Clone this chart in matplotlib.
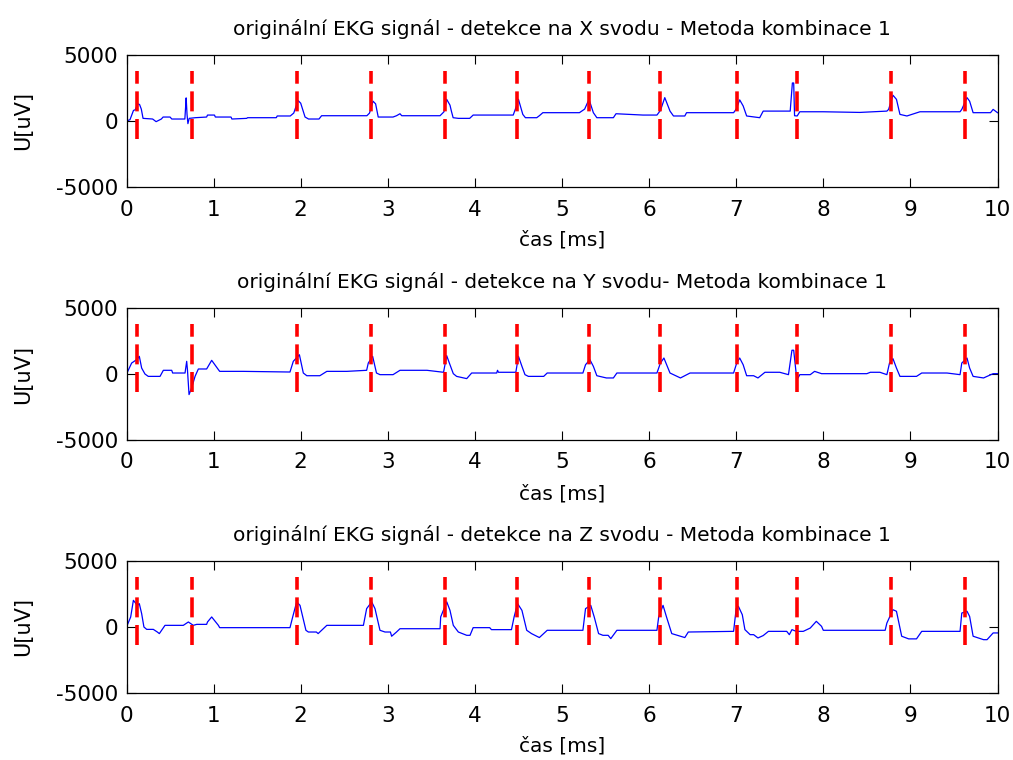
import matplotlib
matplotlib.use("Agg")
import matplotlib.pyplot as plt

# ---- data ----
detekce = [0.115, 0.754, 1.96, 2.81, 3.655, 4.48, 5.31, 6.13, 7.005, 7.70, 8.78, 9.63]
det_dolni = -1330
det_horni = 3800

t_x = [0.00, 0.04, 0.08, 0.10, 0.13, 0.15, 0.17, 0.19, 0.30, 0.34, 0.40, 0.42, 0.50, 0.52,
       0.67, 0.678, 0.685, 0.695, 0.705, 0.72, 0.79, 0.92, 0.93, 1.01, 1.02, 1.20, 1.21,
       1.38, 1.39, 1.72, 1.73, 1.88, 1.92, 1.97, 2.00, 2.05, 2.09, 2.21, 2.24, 2.76, 2.79,
       2.83, 2.86, 2.89, 3.06, 3.10, 3.14, 3.16, 3.60, 3.645, 3.676, 3.714, 3.73, 3.75, 3.81,
       3.94, 3.98, 4.44, 4.47, 4.50, 4.55, 4.58, 4.71, 4.74, 4.78, 5.20, 5.26, 5.31, 5.36,
       5.40, 5.59, 5.62, 5.93, 6.09, 6.13, 6.18, 6.24, 6.28, 6.41, 6.43, 6.97, 7.00, 7.04,
       7.08, 7.12, 7.27, 7.31, 7.62, 7.645, 7.66, 7.67, 7.70, 7.73, 8.00, 8.42, 8.73, 8.75,
       8.80, 8.84, 8.88, 8.96, 9.11, 9.57, 9.59, 9.65, 9.68, 9.72, 9.92, 9.95, 10.0]
u_x = [0, 100, 800, 850, 1300, 1250, 900, 200, 150, -50, 150, 300, 300, 150,
       150, 1000, 1750, 500, -200, 200, 250, 300, 450, 450, 300, 300, 150,
       200, 250, 250, 380, 380, 600, 1550, 1350, 300, 150, 150, 400, 400, 600,
       1500, 1300, 300, 300, 400, 550, 400, 400, 700, 1640, 1200, 750, 250, 200,
       200, 450, 450, 1000, 1640, 500, 250, 250, 400, 630, 630, 900, 1640, 630,
       250, 250, 550, 450, 450, 800, 1770, 750, 380, 380, 630, 630, 900, 1600,
       1140, 380, 250, 750, 750, 2880, 2880, 400, 380, 700, 700, 650, 750, 880,
       1950, 1640, 500, 380, 700, 700, 880, 1770, 1500, 630, 630, 880, 630]

t_y = [0.00, 0.059, 0.117, 0.147, 0.174, 0.212, 0.25, 0.385, 0.423, 0.519, 0.53, 0.672,
       0.691, 0.70, 0.718, 0.748, 0.787, 0.825, 0.92, 0.978, 1.055, 1.07, 1.34, 1.877,
       1.915, 1.985, 2.03, 2.07, 2.22, 2.30, 2.53, 2.757, 2.776, 2.826, 2.87, 2.91, 3.06,
       3.14, 3.45, 3.64, 3.676, 3.714, 3.752, 3.79, 3.906, 3.963, 4.25, 4.26, 4.27, 4.47,
       4.50, 4.54, 4.575, 4.614, 4.79, 4.83, 5.24, 5.27, 5.32, 5.36, 5.40, 5.51, 5.59,
       5.63, 6.09, 6.13, 6.17, 6.24, 6.36, 6.47, 6.97, 7.006, 7.04, 7.08, 7.12, 7.20,
       7.25, 7.33, 7.50, 7.60, 7.64, 7.66, 7.69, 7.71, 7.73, 7.85, 7.90, 7.98, 8.50,
       8.54, 8.65, 8.73, 8.76, 8.80, 8.84, 8.88, 9.07, 9.13, 9.42, 9.57, 9.59, 9.65,
       9.68, 9.72, 9.84, 9.88, 9.95, 10.0]
u_y = [0, 830, 1090, 1340, 450, 0, -180, -180, 280, 280, 75, 75,
       960, 300, -1560, -1050, -180, 380, 380, 1035, 330, 200, 200, 150,
       960, 1460, 75, -130, -130, 200, 200, 280, 830, 1340, 75, -50, -50,
       280, 280, 130, 1390, 700, 25, -180, -350, 75, 75, 280, 130, 130,
       1340, 580, -50, -180, -180, 75, 75, 700, 1085, 580, -130, -300, -300,
       75, 75, 830, 1210, 75, -300, 75, 75, 830, 1210, 700, -130, -130,
       -300, 130, 130, -50, 1800, 1800, -50, -300, -50, -50, 200, 25, 25,
       130, 130, -50, 830, 1160, 450, -180, -180, 75, 75, -50, 830, 1210,
       450, -180, -300, -180, 25, 25]

t_z = [0.00, 0.048, 0.079, 0.109, 0.124, 0.147, 0.174, 0.20, 0.232, 0.308, 0.354, 0.377,
       0.442, 0.652, 0.71, 0.767, 0.806, 0.92, 0.93, 0.978, 1.055, 1.07, 1.877, 1.908,
       1.954, 1.992, 2.06, 2.088, 2.18, 2.20, 2.30, 2.72, 2.757, 2.815, 2.853, 2.91, 2.968,
       3.03, 3.044, 3.10, 3.14, 3.60, 3.607, 3.677, 3.714, 3.752, 3.81, 3.906, 3.944, 3.98,
       4.17, 4.19, 4.42, 4.45, 4.49, 4.54, 4.595, 4.65, 4.74, 4.83, 5.24, 5.27, 5.33,
       5.37, 5.42, 5.47, 5.53, 5.56, 5.63, 6.09, 6.11, 6.16, 6.20, 6.26, 6.36, 6.41,
       6.45, 6.97, 7.00, 7.025, 7.07, 7.10, 7.16, 7.20, 7.25, 7.31, 7.37, 7.58, 7.61,
       7.64, 7.69, 7.77, 7.85, 7.92, 7.98, 8.00, 8.71, 8.73, 8.80, 8.84, 8.90, 8.98,
       9.07, 9.13, 9.57, 9.59, 9.65, 9.68, 9.72, 9.84, 9.88, 9.95, 10.0]
u_z = [0, 760, 2020, 1770, 1640, 1770, 1010, 0, -180, -180, -380, -500,
       125, 125, 380, 125, 200, 200, 380, 760, 125, -50, -50, 760,
       1900, 1640, -250, -380, -380, -500, 125, 125, 1390, 1900, 1390, -250, -380,
       -380, -700, -380, -130, -130, 760, 1900, 1260, 125, -380, -630, -630, -50,
       -50, -200, -200, 760, 1770, 1260, -250, -500, -800, -250, -250, 1390, 1640,
       760, -500, -630, -630, -880, -250, -250, 760, 1640, 760, -500, -700, -800,
       -380, -330, 1390, 1570, 930, -200, -580, -580, -830, -650, -330, -330, -580,
       -200, -330, -330, -80, 430, 50, -250, -250, 300, 1310, 1190, -700, -900,
       -900, -330, -330, 1060, 1190, 800, -700, -960, -960, -450, -450]

tituly = [
    "originální EKG signál - detekce na X svodu - Metoda kombinace 1",
    "originální EKG signál - detekce na Y svodu- Metoda kombinace 1",
    "originální EKG signál - detekce na Z svodu - Metoda kombinace 1",
]
signaly = [(t_x, u_x), (t_y, u_y), (t_z, u_z)]
x_ticks = list(range(0, 11))
y_ticks = [-5000, 0, 5000]

# ---- figure ----
plt.rcParams['font.family'] = ['DejaVu Sans']
plt.rcParams['lines.scale_dashes'] = False
plt.rcParams['axes.unicode_minus'] = False
W, H = 1013, 760
fig = plt.figure(figsize=(W / 100, H / 100), dpi=100)

left_px, right_px = 126.5, 997.5
tops_px = [55, 308, 561]
ax_h_px = 132
ax_w_px = right_px - left_px

for i, ((tt, uu), titul) in enumerate(zip(signaly, tituly)):
    top = tops_px[i]
    ax = fig.add_axes([left_px / W, 1 - (top + ax_h_px) / H,
                       ax_w_px / W, ax_h_px / H])
    ax.plot(tt, uu, color=(0, 0, 1), lw=0.9)
    for d in detekce:
        ax.plot([d, d], [det_dolni, det_horni], color=(1, 0, 0), lw=2.6,
                dashes=(14.4, 5.5), solid_capstyle='butt', dash_capstyle='butt')
    ax.set_xlim(0, 10)
    ax.set_ylim(-5000, 5000)
    ax.set_xticks(x_ticks)
    ax.set_yticks(y_ticks)
    ax.tick_params(direction='in', length=6.5, width=0.8, top=True, right=True,
                   labelsize=15.5)
    ax.tick_params(axis='x', pad=9)
    ax.tick_params(axis='y', pad=6)
    for s in ax.spines.values():
        s.set_linewidth(0.9)
    ax.set_title(titul, fontsize=14.5, pad=14.5)
    ax.set_xlabel("čas [ms]", fontsize=14.5)
    ax.xaxis.label.set_verticalalignment('baseline')
    ax.xaxis.set_label_coords(0.5, -59.0 / ax_h_px)
    ax.set_ylabel("U[uV]", fontsize=15)
    ax.yaxis.set_label_coords(-(left_px - 33) / ax_w_px, 0.5)

fig.savefig("out.png", dpi=100)
